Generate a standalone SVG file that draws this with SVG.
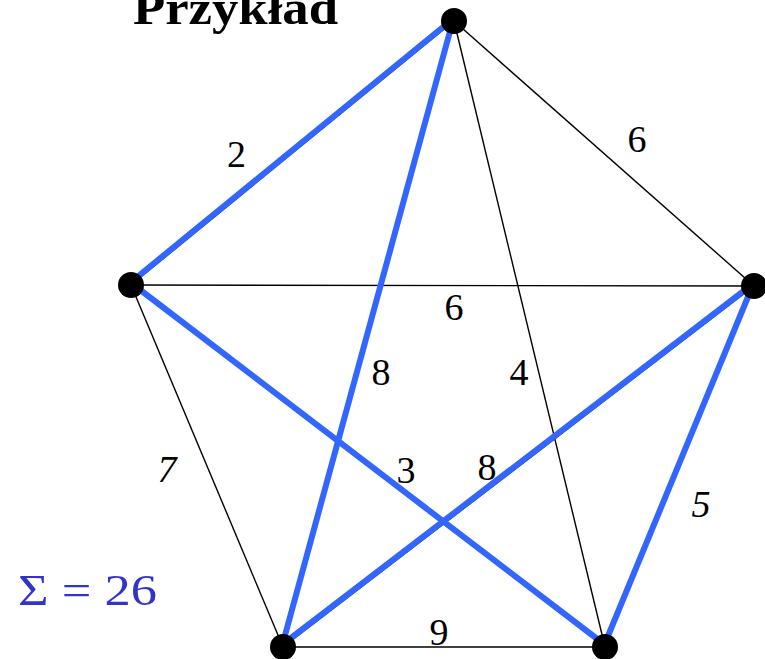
<svg xmlns="http://www.w3.org/2000/svg" width="765" height="659" viewBox="0 0 765 659">
<style>
.e{stroke:#000;stroke-width:1.4;fill:none}
.b{stroke:#3366ff;stroke-width:6;fill:none}
.n{fill:#000}
.s{font-family:"Liberation Serif","Times New Roman",Times,serif}
.l{font-size:38px;fill:#000;text-anchor:middle}
.i{font-style:italic}
.t{font-weight:bold;font-size:48px;fill:#000}
.sum{font-size:44px;fill:#3333cc}
</style>
<rect width="765" height="659" fill="#fff"/>
<text class="s t" x="133" y="24" textLength="205" lengthAdjust="spacingAndGlyphs">Przykład</text>
<g id="connectors">
<line class="e" x1="454" y1="21" x2="754" y2="286"/>
<line class="e" x1="454" y1="21" x2="605" y2="647"/>
<line class="e" x1="131" y1="285" x2="754" y2="286"/>
<line class="e" x1="131" y1="285" x2="283" y2="647"/>
<line class="e" x1="283" y1="647" x2="605" y2="647"/>
<line class="e" x1="454" y1="21" x2="131" y2="285"/>
<line class="e" x1="454" y1="21" x2="283" y2="647"/>
<line class="e" x1="131" y1="285" x2="605" y2="647"/>
<line class="e" x1="283" y1="647" x2="754" y2="286"/>
<line class="e" x1="754" y1="286" x2="605" y2="647"/>
<g transform="translate(-0.5,-2.5)">
<line class="b" x1="454" y1="21" x2="131" y2="285"/>
<line class="b" x1="454" y1="21" x2="283" y2="647"/>
<line class="b" x1="131" y1="285" x2="605" y2="647"/>
<line class="b" x1="283" y1="647" x2="754" y2="286"/>
<line class="b" x1="754" y1="286" x2="605" y2="647"/>
</g>
</g>
<g id="labels" class="s">
<text class="l" x="236.5" y="167">2</text>
<text class="l" x="637" y="152">6</text>
<text class="l" x="454" y="320">6</text>
<text class="l" x="381" y="385">8</text>
<text class="l" x="519" y="385">4</text>
<text class="l i" x="167" y="482">7</text>
<text class="l" x="406" y="483">3</text>
<text class="l" x="487" y="480">8</text>
<text class="l i" x="701" y="517">5</text>
<text class="l" x="439" y="645">9</text>
</g>
<g id="node-top"><circle class="n" cx="454" cy="21" r="13"/></g>
<g id="node-left"><circle class="n" cx="131" cy="285" r="13"/></g>
<g id="node-right"><circle class="n" cx="754" cy="286" r="13"/></g>
<g id="node-bl"><circle class="n" cx="283" cy="647" r="13"/></g>
<g id="node-br"><circle class="n" cx="605" cy="647" r="13"/></g>
<text class="s sum" x="18" y="605" textLength="139" lengthAdjust="spacingAndGlyphs">Σ = 26</text>
</svg>
